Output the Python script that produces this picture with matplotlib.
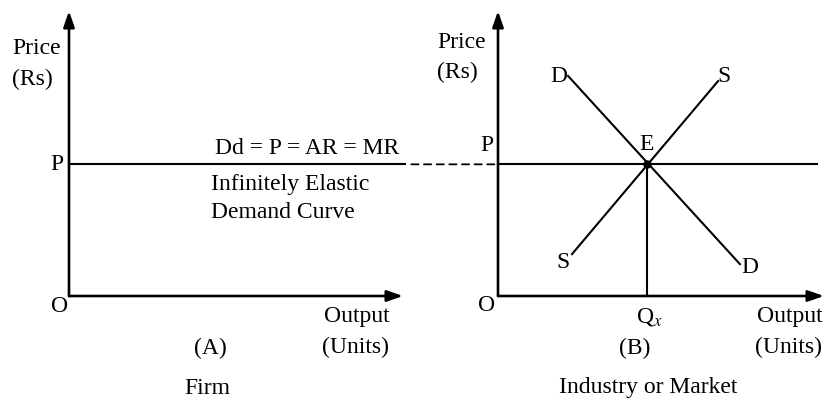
import matplotlib
import matplotlib.pyplot as plt
from matplotlib.patches import ConnectionPatch

matplotlib.use("Agg")

plt.rcParams["font.family"] = ["Liberation Serif", "DejaVu Serif"]
plt.rcParams["mathtext.fontset"] = "stix"

W, H = 824, 402
FS = 17

# Firm: horizontal demand at the market price
price_level = 4.62

# Industry: demand and supply lines (output, price)
demand_q = [2.15, 7.42]
demand_p = [7.72, 1.12]
supply_q = [2.27, 6.75]
supply_p = [1.47, 7.54]
eq_q = 4.57


def px_axes(fig, left, top, right, bottom):
    # axes placed by pixel box, data units 0..10 on both sides
    ax = fig.add_axes([left / W, 1 - bottom / H, (right - left) / W, (bottom - top) / H])
    ax.set_xlim(0, 10)
    ax.set_ylim(0, 10)
    ax.axis("off")
    return ax


def draw_axes(ax):
    arrow = dict(arrowstyle="-|>,head_length=0.95,head_width=0.33", color="black",
                 lw=1.9, shrinkA=0, shrinkB=0)
    ax.annotate("", xy=(0, 10), xytext=(0, 0), arrowprops=arrow, annotation_clip=False)
    ax.annotate("", xy=(10, 0), xytext=(0, 0), arrowprops=arrow, annotation_clip=False)


def label(x, y, s, ha="left", **kw):
    fig.text(x / W, 1 - y / H, s, ha=ha, va="center", fontsize=FS, **kw)


fig = plt.figure(figsize=(W / 100, H / 100), dpi=100)

ax_a = px_axes(fig, 69, 12, 403, 297)
ax_b = px_axes(fig, 498, 12, 824, 297)

for ax in (ax_a, ax_b):
    draw_axes(ax)

# Panel A
ax_a.plot([0, 10.05], [price_level, price_level], color="black", lw=1.5, clip_on=False)

# Panel B
ax_b.plot([0, 9.8], [price_level, price_level], color="black", lw=1.5, clip_on=False)
ax_b.plot(demand_q, demand_p, color="black", lw=1.5)
ax_b.plot(supply_q, supply_p, color="black", lw=1.5)
ax_b.plot([eq_q, eq_q], [0, price_level], color="black", lw=1.5)
ax_b.plot([eq_q], [price_level], "o", color="black", ms=5)

# dashed link between the two price lines
link = ConnectionPatch(xyA=(10.25, price_level), coordsA=ax_a.transData,
                       xyB=(0, price_level), coordsB=ax_b.transData,
                       color="black", lw=1.3, linestyle=(0, (4, 3)))
fig.add_artist(link)

# Panel A labels
label(12, 48, "Price")
label(12, 79, "(Rs)")
label(50, 165, "P")
label(51, 307, "O")
label(215, 149, "Dd = P = AR = MR")
label(211, 185, "Infinitely Elastic")
label(211, 213, "Demand Curve")
label(324, 317, "Output")
label(322, 347, "(Units)")
label(194, 348, "(A)")
label(184, 389, "Firm")

# Panel B labels
label(437, 43, "Price")
label(437, 72, "(Rs)")
label(480, 146, "P")
label(639, 145, "E")
label(550, 77, "D")
label(717, 77, "S")
label(556, 262, "S")
label(741, 268, "D")
label(478, 306, "O")
label(636, 317, r"Q$_{x}$")
label(619, 348, "(B)")
label(757, 317, "Output")
label(755, 347, "(Units)")
label(559, 388, "Industry or Market")

fig.savefig("out.png", dpi=100)
